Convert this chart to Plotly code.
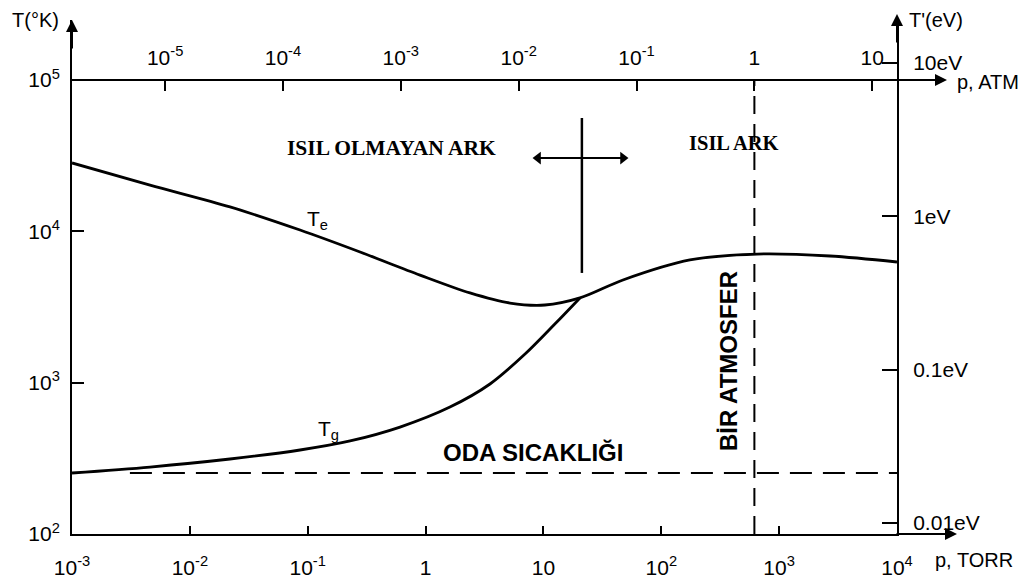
import math
import plotly.graph_objects as go

# Electron temperature T_e and gas temperature T_g (K) versus pressure (torr)
te_p = [1e-3, 0.00459, 0.0219, 0.0861, 0.278, 0.897, 2.38, 5.20, 10.3, 20.4, 47.3, 175, 649, 2700, 1e4]
te_T = [28300, 20200, 14500, 10200, 7300, 5140, 3920, 3360, 3260, 3630, 4770, 6470, 7080, 6870, 6270]
tg_p = [1e-3, 0.00459, 0.0219, 0.0861, 0.229, 0.607, 1.61, 3.52, 6.98, 12.5, 20.4]
tg_T = [253, 277, 313, 359, 412, 509, 690, 980, 1545, 2440, 3630]

# Room temperature level (K) and its pressure extent (torr)
room_T = 253
room_p = [0.0031, 1e4]

# One atmosphere marker (atm) spanning the temperature range (K)
atm_p = 1.0
atm_T = [100, 1e5]

# Boundary between the non-thermal and thermal arc regimes
split_p = 21.2
split_T = [5310, 56100]
arrow_p = [9.0, 47.3]
arrow_T = 30500

# Axis ticks
torr_ticks = [1e-3, 1e-2, 1e-1, 1, 10, 1e2, 1e3, 1e4]
torr_labels = ["10<sup>-3</sup>", "10<sup>-2</sup>", "10<sup>-1</sup>", "1", "10",
               "10<sup>2</sup>", "10<sup>3</sup>", "10<sup>4</sup>"]
atm_ticks = [1e-5, 1e-4, 1e-3, 1e-2, 1e-1, 1, 10]
atm_labels = ["10<sup>-5</sup>", "10<sup>-4</sup>", "10<sup>-3</sup>", "10<sup>-2</sup>",
              "10<sup>-1</sup>", "1", "10"]
T_ticks = [1e2, 1e3, 1e4, 1e5]
T_labels = ["10<sup>2</sup>", "10<sup>3</sup>", "10<sup>4</sup>", "10<sup>5</sup>"]
ev_ticks = [0.01, 0.1, 1, 10]
ev_labels = ["0.01eV", "0.1eV", "1eV", "10eV"]

SANS = "Liberation Sans, Arial, sans-serif"
SERIF = "Liberation Serif, Times New Roman, serif"
INK = "black"

# plot area geometry (pixels)
PLOT_H = 514
T_DECADE = 151.33
EV_DECADE = 153.3

fig = go.Figure()

curve = dict(color=INK, width=2.8, shape="spline", smoothing=0.9)
fig.add_trace(go.Scatter(x=te_p, y=te_T, mode="lines", line=curve))
fig.add_trace(go.Scatter(x=tg_p, y=tg_T, mode="lines", line=curve))

# room temperature dashed level
fig.add_trace(go.Scatter(x=room_p, y=[room_T, room_T], mode="lines",
                         line=dict(color=INK, width=2, dash="22px,11px")))

# one-atmosphere dashed vertical (pressure in atm on the top axis)
fig.add_trace(go.Scatter(x=[atm_p, atm_p], y=atm_T, xaxis="x2", mode="lines",
                         line=dict(color=INK, width=2, dash="18px,10px")))

# regime boundary and double arrow
fig.add_trace(go.Scatter(x=[split_p, split_p], y=split_T, mode="lines", line=dict(color=INK, width=2.5)))
fig.add_trace(go.Scatter(x=arrow_p, y=[arrow_T, arrow_T], mode="lines+markers",
                         line=dict(color=INK, width=2),
                         marker=dict(symbol=["triangle-left", "triangle-right"], size=11, color=INK)))

# eV scale anchor
fig.add_trace(go.Scatter(x=[1], y=[1], yaxis="y2", mode="markers", marker=dict(opacity=0), hoverinfo="skip"))

tickfont = dict(family=SANS, size=21, color=INK)
axis_common = dict(tickwidth=2, tickcolor=INK, showline=True, linecolor=INK, linewidth=2,
                   showgrid=False, zeroline=False, tickfont=tickfont, automargin=False)

fig.update_layout(
    width=1029, height=581,
    margin=dict(l=72, r=132, t=20, b=47, autoexpand=False),
    paper_bgcolor="white", plot_bgcolor="white",
    showlegend=False,
    xaxis=dict(type="log", range=[-3, 4], tickvals=torr_ticks, ticktext=torr_labels,
               ticks="inside", ticklen=8, ticklabelstandoff=14, **axis_common),
    xaxis2=dict(type="log", range=[-5.79, 1.21], overlaying="x", side="top",
                anchor="free", position=(534 - 80) / PLOT_H,
                tickvals=atm_ticks, ticktext=atm_labels,
                ticks="inside", ticklen=10, ticklabelstandoff=6, **axis_common),
    yaxis=dict(type="log", range=[2, 2 + PLOT_H / T_DECADE], tickvals=T_ticks, ticktext=T_labels,
               ticks="inside", ticklen=12, ticklabelstandoff=6, **axis_common),
    yaxis2=dict(type="log", range=[-2 - 11 / EV_DECADE, -2 + 503 / EV_DECADE],
                overlaying="y", side="right", anchor="x",
                tickvals=ev_ticks, ticktext=ev_labels,
                ticks="inside", ticklen=15, ticklabelstandoff=10, **axis_common),
)

ann = []


def txt(x, y, text, size=20, family=SANS, weight="normal", xref="x", yref="y", **kw):
    ann.append(dict(x=x, y=y, xref=xref, yref=yref, text=text, showarrow=False,
                    font=dict(family=family, size=size, color=INK, weight=weight), **kw))


def arrow(x, y, ax, ay):
    ann.append(dict(x=x, y=y, xref="paper", yref="paper", ax=ax, ay=ay, text="",
                    showarrow=True, arrowhead=2, arrowsize=1.2, arrowwidth=2, arrowcolor=INK, standoff=0))


lg = math.log10

# region labels (log coordinates on log axes)
txt(lg(0.51), lg(35600), "ISIL OLMAYAN ARK", size=21.5, family=SERIF, weight="bold")
txt(lg(414), lg(38400), "ISIL ARK", size=20.5, family=SERIF, weight="bold")
txt(lg(8.15), lg(343), "ODA SICAKLIĞI", size=24, weight="bold")
txt(lg(368), lg(1390), "BİR ATMOSFER", size=24, weight="bold", textangle=-90)

# curve labels
txt(lg(0.122), lg(11900), "T<sub>e</sub>", size=21)
txt(lg(0.149), lg(487), "T<sub>g</sub>", size=21)

# axis titles
txt(-0.075, 1.0, "T(°K)", size=20, xref="paper", yref="paper", xanchor="left", yanchor="middle")
txt(1.0121, 1.0, "T'(eV)", size=20, xref="paper", yref="paper", xanchor="left", yanchor="middle")
txt(1.0703, (534 - 82) / PLOT_H, "p, ATM", size=20, xref="paper", yref="paper", xanchor="left", yanchor="middle")
txt(1.0436, (534 - 560) / PLOT_H, "p, TORR", size=20, xref="paper", yref="paper", xanchor="left", yanchor="middle")

# axis arrowheads
arrow(0, 1.0, 0, 30)
arrow(1, (534 - 14) / PLOT_H, 0, 30)
arrow((957 - 72) / 825, 0, -62, 0)
arrow((947 - 72) / 825, (534 - 80) / PLOT_H, -52, 0)

fig.update_layout(annotations=ann)

fig.write_html("out.html")
